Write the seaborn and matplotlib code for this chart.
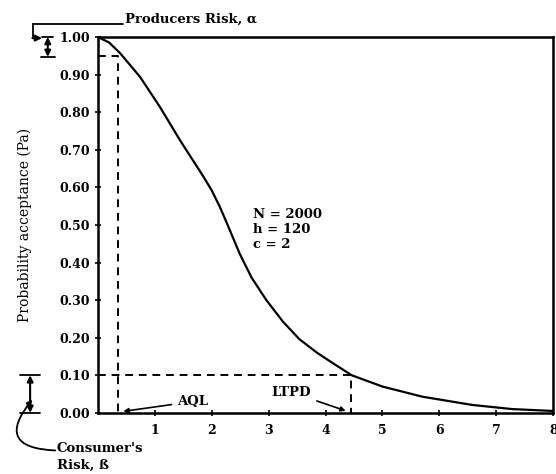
import pandas as pd
import matplotlib.pyplot as plt
import seaborn as sns

# OC curve (percent defective vs probability of acceptance)
pct_defective = [0, 0.2, 0.39, 0.74, 1.09, 1.44, 1.84, 2.0, 2.14, 2.26, 2.49, 2.7, 2.96,
                 3.25, 3.54, 3.85, 4.12, 4.46, 5.0, 5.7, 6.58, 7.28, 8.0]
prob_accept = [1.0, 0.985, 0.957, 0.894, 0.814, 0.726, 0.632, 0.592, 0.549, 0.507, 0.424,
               0.36, 0.30, 0.243, 0.196, 0.16, 0.133, 0.10, 0.07, 0.043, 0.021, 0.01, 0.005]

aql, alpha_level = 0.35, 0.95
ltpd, beta_level = 4.45, 0.10

y_ticks = [0.0, 0.1, 0.2, 0.3, 0.4, 0.5, 0.6, 0.7, 0.8, 0.9, 1.0]
y_labels = ["0.00", "0.10", "0.20", "0.30", "0.40", "0.50", "0.60", "0.70", "0.80", "0.90", "1.00"]
x_ticks = [1, 2, 3, 4, 5, 6, 7, 8]
plan_text = "N = 2000\nh = 120\nc = 2"

df = pd.DataFrame({"p": pct_defective, "pa": prob_accept})

sns.set_style("ticks")
plt.rcParams["font.family"] = ["DejaVu Serif"]
plt.rcParams.update({"text.color": "black", "axes.labelcolor": "black",
                     "xtick.color": "black", "ytick.color": "black"})

fig = plt.figure(figsize=(5.56, 4.74), dpi=100)
ax = fig.add_axes([0.176, 0.129, 0.819, 0.793])

sns.lineplot(data=df, x="p", y="pa", color="black", linewidth=1.6, ax=ax)

# dashed guides for AQL and LTPD
ax.plot([0, aql, aql], [alpha_level, alpha_level, 0], ls=(0, (4, 3)), color="black", lw=1.4)
ax.plot([0, ltpd, ltpd], [beta_level, beta_level, 0], ls=(0, (4, 3)), color="black", lw=1.4)

ax.set_xlim(0, 8)
ax.set_ylim(0, 1)
ax.set_yticks(y_ticks)
ax.set_yticklabels(y_labels)
ax.set_xticks(x_ticks)
ax.set_xticklabels([str(t) for t in x_ticks])
ax.tick_params(axis="both", labelsize=9, length=4, width=1.2, direction="inout", color="black")
ax.tick_params(axis="x", pad=6)
for lab in ax.get_xticklabels() + ax.get_yticklabels():
    lab.set_fontweight("bold")
ax.set_xlabel("")
ax.set_ylabel("Probability acceptance (Pa)", fontsize=10, labelpad=20)
for s in ax.spines.values():
    s.set_linewidth(1.8)
    s.set_color("black")

ax.text(2.72, 0.545, plan_text, fontsize=9.5, fontweight="bold", va="top", linespacing=1.2)

arr = dict(color="black", lw=1.5, mutation_scale=9, shrinkA=0, shrinkB=0)

# Producer's risk callout
kw = dict(color="black", lw=1.3, clip_on=False)
ax.plot([-1.14, 0.44], [1.035, 1.035], **kw)
ax.plot([-1.14, -1.14], [1.035, 0.997], **kw)
ax.annotate("", xy=(-0.98, 0.997), xytext=(-1.15, 0.997),
            arrowprops=dict(arrowstyle="-|>", **arr), annotation_clip=False)
ax.text(0.47, 1.047, "Producers Risk, \u03b1", fontsize=9.5, fontweight="bold", va="center")
ax.annotate("", xy=(-0.88, 1.0), xytext=(-0.88, 0.947),
            arrowprops=dict(arrowstyle="<|-|>", **arr), annotation_clip=False)
ax.plot([-0.98, -0.78], [1.0, 1.0], **kw)
ax.plot([-1.0, -0.76], [0.947, 0.947], **kw)

# Consumer's risk callout
ax.annotate("", xy=(-1.19, 0.1), xytext=(-1.19, 0.0),
            arrowprops=dict(arrowstyle="<|-|>", **arr), annotation_clip=False)
ax.plot([-1.37, -1.02], [0.1, 0.1], **kw)
ax.plot([-1.37, -1.02], [0.0, 0.0], **kw)
ax.annotate("", xy=(-1.15, 0.035), xytext=(-0.75, -0.1),
            arrowprops=dict(arrowstyle="-|>", color="black", lw=1.3, mutation_scale=8,
                            shrinkA=0, shrinkB=0, connectionstyle="arc3,rad=-1.0"),
            annotation_clip=False)
ax.text(-0.72, -0.095, "Consumer's", fontsize=9.5, fontweight="bold", va="center")
ax.text(-0.72, -0.14, "Risk, \u00df", fontsize=9.5, fontweight="bold", va="center")

# AQL and LTPD labels
ax.annotate("AQL", xy=(aql + 0.05, 0.003), xytext=(1.4, 0.03),
            fontsize=9.5, fontweight="bold", va="center",
            arrowprops=dict(arrowstyle="-|>", color="black", lw=1.2, mutation_scale=7))
ax.annotate("LTPD", xy=(ltpd - 0.05, 0.003), xytext=(3.05, 0.055),
            fontsize=9.5, fontweight="bold", va="center",
            arrowprops=dict(arrowstyle="-|>", color="black", lw=1.2, mutation_scale=7))

fig.savefig("out.png", dpi=100)
